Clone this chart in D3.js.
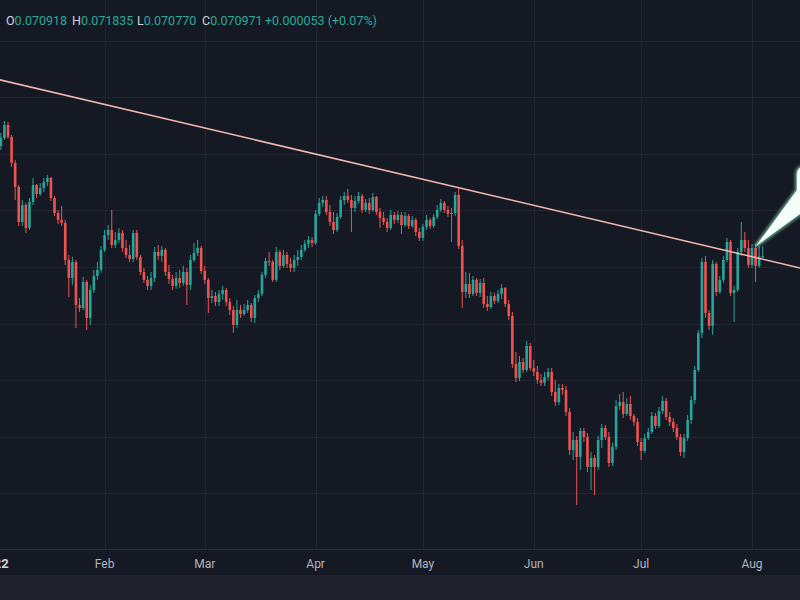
<!DOCTYPE html>
<html>
<head>
<meta charset="utf-8">
<script src="https://cdn.jsdelivr.net/npm/d3@7"></script>
<style>
  html, body { margin: 0; padding: 0; background: #1f222c; }
  svg { display: block; font-family: Roboto, "Noto Sans", sans-serif; }
</style>
</head>
<body>
<svg id="chart" width="800" height="600"></svg>
<script>
// ETH/BTC daily candles, 1 Jan 2022 -> 4 Aug 2022 (open = previous close)
var startDay = Date.UTC(2022, 0, 1);
var firstOpen = 0.08034;

var closes = [
  0.08122,0.08069,0.08140,0.08255,0.08149,0.07919,0.07707,0.07398,0.07548,0.07345,
  0.07575,0.07725,0.07645,0.07698,0.07751,0.07787,0.07610,0.07477,0.07416,0.07389,
  0.07062,0.06903,0.07045,0.06665,0.06638,0.06868,0.06550,0.06797,0.06921,0.06974,
  0.07151,0.07283,0.07327,0.07195,0.07239,0.07301,0.07168,0.07106,0.07071,0.07301,
  0.07089,0.06956,0.06886,0.06833,0.06903,0.07133,0.07098,0.07151,0.06956,0.06894,
  0.06833,0.06903,0.06859,0.06956,0.06841,0.07062,0.07124,0.07168,0.06965,0.06886,
  0.06726,0.06744,0.06691,0.06762,0.06797,0.06691,0.06620,0.06488,0.06620,0.06585,
  0.06620,0.06665,0.06550,0.06726,0.06762,0.06930,0.07053,0.07045,0.06886,0.07133,
  0.07009,0.07106,0.07027,0.06992,0.07062,0.07089,0.07151,0.07204,0.07239,0.07212,
  0.07469,0.07566,0.07592,0.07486,0.07398,0.07327,0.07442,0.07592,0.07628,0.07592,
  0.07522,0.07583,0.07628,0.07504,0.07566,0.07504,0.07619,0.07486,0.07433,0.07398,
  0.07345,0.07460,0.07416,0.07460,0.07371,0.07451,0.07363,0.07416,0.07310,0.07257,
  0.07354,0.07416,0.07363,0.07442,0.07504,0.07566,0.07504,0.07469,0.07477,0.07636,
  0.07186,0.06779,0.06850,0.06762,0.06886,0.06771,0.06859,0.06674,0.06647,0.06744,
  0.06700,0.06762,0.06815,0.06674,0.06568,0.06143,0.06020,0.06161,0.06090,0.06302,
  0.06108,0.06073,0.06002,0.05976,0.06029,0.06073,0.05896,0.05808,0.05931,0.05914,
  0.05719,0.05384,0.05472,0.05322,0.05552,0.05499,0.05234,0.05313,0.05234,0.05472,
  0.05578,0.05499,0.05269,0.05410,0.05772,0.05808,0.05702,0.05790,0.05684,0.05631,
  0.05454,0.05375,0.05489,0.05543,0.05684,0.05596,0.05728,0.05817,0.05675,0.05631,
  0.05578,0.05499,0.05366,0.05489,0.05649,0.05825,0.06090,0.06417,0.07045,0.06594,
  0.06479,0.07027,0.06779,0.06886,0.07062,0.07221,0.06771,0.06797,0.07133,0.07239,
  0.07168,0.07018,0.07168,0.07009,0.070918,0.070971
];

var highs = [
  0.08175,0.08175,0.08184,0.08290,0.08281,0.08166,0.07946,0.07725,0.07592,0.07566,
  0.07610,0.07787,0.07734,0.07742,0.07787,0.07813,0.07795,0.07628,0.07504,0.07539,
  0.07416,0.07106,0.07089,0.07062,0.06726,0.06912,0.06886,0.06841,0.06974,0.07045,
  0.07186,0.07327,0.07371,0.07504,0.07310,0.07345,0.07327,0.07239,0.07195,0.07327,
  0.07327,0.07106,0.06992,0.06921,0.06956,0.07177,0.07195,0.07186,0.07168,0.07018,
  0.06930,0.06956,0.06974,0.07009,0.06992,0.07106,0.07212,0.07239,0.07186,0.07009,
  0.06903,0.06797,0.06779,0.06797,0.06833,0.06815,0.06726,0.06656,0.06709,0.06665,
  0.06674,0.06709,0.06682,0.06753,0.06797,0.06956,0.07080,0.07133,0.07062,0.07177,
  0.07151,0.07151,0.07133,0.07080,0.07106,0.07151,0.07195,0.07239,0.07274,0.07265,
  0.07504,0.07610,0.07628,0.07628,0.07548,0.07486,0.07477,0.07628,0.07663,0.07689,
  0.07636,0.07628,0.07663,0.07645,0.07601,0.07610,0.07654,0.07628,0.07522,0.07486,
  0.07433,0.07504,0.07486,0.07495,0.07486,0.07486,0.07469,0.07451,0.07433,0.07345,
  0.07380,0.07460,0.07433,0.07469,0.07548,0.07601,0.07583,0.07539,0.07522,0.07663,
  0.07698,0.07239,0.06956,0.06947,0.06921,0.06903,0.06894,0.06903,0.06744,0.06779,
  0.06771,0.06797,0.06850,0.06824,0.06709,0.06603,0.06249,0.06214,0.06196,0.06347,
  0.06329,0.06179,0.06126,0.06055,0.06073,0.06108,0.06108,0.06002,0.05967,0.05967,
  0.05949,0.05755,0.05543,0.05507,0.05578,0.05578,0.05534,0.05366,0.05340,0.05507,
  0.05613,0.05604,0.05543,0.05446,0.05825,0.05878,0.05896,0.05843,0.05861,0.05702,
  0.05666,0.05489,0.05525,0.05578,0.05719,0.05711,0.05763,0.05861,0.05843,0.05719,
  0.05666,0.05613,0.05525,0.05525,0.05693,0.05861,0.06126,0.06444,0.07080,0.07098,
  0.06620,0.07062,0.07045,0.06921,0.07098,0.07257,0.07239,0.06833,0.07168,0.07398,
  0.07310,0.07239,0.07204,0.07204,0.07186,0.071835
];

var lows = [
  0.08016,0.08034,0.08034,0.08122,0.08131,0.07884,0.07592,0.07363,0.07363,0.07301,
  0.07327,0.07548,0.07610,0.07628,0.07663,0.07716,0.07583,0.07451,0.07380,0.07363,
  0.07018,0.06735,0.06841,0.06461,0.06603,0.06620,0.06444,0.06488,0.06771,0.06886,
  0.06947,0.07133,0.07239,0.07168,0.07168,0.07212,0.07133,0.07080,0.07045,0.07045,
  0.07062,0.06930,0.06859,0.06797,0.06797,0.06868,0.07062,0.07045,0.06921,0.06850,
  0.06797,0.06806,0.06815,0.06833,0.06665,0.06797,0.07045,0.07098,0.06939,0.06850,
  0.06594,0.06682,0.06656,0.06656,0.06709,0.06656,0.06576,0.06417,0.06461,0.06550,
  0.06568,0.06594,0.06514,0.06506,0.06691,0.06744,0.06903,0.07009,0.06868,0.06868,
  0.06974,0.06992,0.06992,0.06956,0.06956,0.07009,0.07062,0.07133,0.07168,0.07177,
  0.07195,0.07451,0.07530,0.07460,0.07363,0.07292,0.07310,0.07424,0.07548,0.07566,
  0.07310,0.07486,0.07557,0.07477,0.07486,0.07469,0.07486,0.07460,0.07345,0.07371,
  0.07310,0.07327,0.07380,0.07389,0.07292,0.07354,0.07336,0.07345,0.07274,0.07230,
  0.07230,0.07327,0.07336,0.07345,0.07424,0.07486,0.07477,0.07442,0.07221,0.07451,
  0.07159,0.06638,0.06726,0.06726,0.06744,0.06744,0.06735,0.06638,0.06612,0.06629,
  0.06674,0.06682,0.06718,0.06647,0.06532,0.06108,0.05984,0.05993,0.06064,0.06073,
  0.06082,0.06037,0.05967,0.05949,0.05949,0.06002,0.05861,0.05772,0.05781,0.05870,
  0.05684,0.05340,0.05295,0.04898,0.05207,0.05454,0.05189,0.05030,0.04986,0.05207,
  0.05401,0.05472,0.05234,0.05242,0.05384,0.05737,0.05666,0.05684,0.05649,0.05596,
  0.05419,0.05295,0.05357,0.05472,0.05525,0.05570,0.05578,0.05702,0.05649,0.05596,
  0.05543,0.05472,0.05331,0.05313,0.05463,0.05613,0.05790,0.06073,0.06373,0.06550,
  0.06444,0.06400,0.06744,0.06762,0.06859,0.07045,0.06744,0.06514,0.06779,0.07098,
  0.07133,0.06992,0.06992,0.06868,0.06992,0.070770
];

var legendKeys = ["O", "H", "L", "C"];
var legendVals = ["0.070918", "0.071835", "0.070770", "0.070971"];
var legendChange = "+0.000053 (+0.07%)";

// trend line anchors (date, price)
var trendDates = [Date.UTC(2022, 0, 1), Date.UTC(2022, 7, 15)];
var trendPrices = [0.08666, 0.06987];

var svg = d3.select("#chart"),
    width = 800,
    plotBottom = 549,
    axisBottom = 575;

var up = "#26a69a", down = "#ef5350";

var candles = closes.map(function(c, i) {
  return {
    date: d3.utcDay.offset(new Date(startDay), i),
    open: i ? closes[i - 1] : firstOpen,
    close: c,
    high: highs[i],
    low: lows[i]
  };
});

var x = d3.scaleUtc()
    .domain([new Date(Date.UTC(2022, 0, 1)), new Date(Date.UTC(2022, 7, 1))])
    .range([-6.3, 752]);
var y = d3.scaleLinear()
    .domain([0.050, 0.090])
    .range([493.4, 40.6]);

// backgrounds
svg.append("rect").attr("width", width).attr("height", 600).attr("fill", "#1f222c");
svg.append("rect").attr("width", width).attr("height", axisBottom).attr("fill", "#151924");

svg.append("clipPath").attr("id", "plot")
  .append("rect").attr("width", width).attr("height", plotBottom);

var plot = svg.append("g").attr("clip-path", "url(#plot)");

// grid
var months = d3.utcMonth.range(new Date(Date.UTC(2022, 0, 1)), new Date(Date.UTC(2022, 8, 1)));
plot.selectAll(".hgrid").data(y.ticks(8)).enter().append("line")
    .attr("x1", 0).attr("x2", width)
    .attr("y1", function(d) { return Math.round(y(d)) + 0.5; })
    .attr("y2", function(d) { return Math.round(y(d)) + 0.5; })
    .attr("stroke", "#212532").attr("stroke-width", 1);
plot.selectAll(".vgrid").data(months).enter().append("line")
    .attr("x1", function(d) { return Math.round(x(d)) + 0.5; })
    .attr("x2", function(d) { return Math.round(x(d)) + 0.5; })
    .attr("y1", 0).attr("y2", plotBottom)
    .attr("stroke", "#212532").attr("stroke-width", 1);

// candles
var candle = plot.selectAll(".candle").data(candles).enter().append("g");
candle.append("line")
    .attr("x1", function(d) { return x(d.date); })
    .attr("x2", function(d) { return x(d.date); })
    .attr("y1", function(d) { return y(d.high); })
    .attr("y2", function(d) { return y(d.low); })
    .attr("stroke", function(d) { return d.close >= d.open ? up : down; })
    .attr("stroke-width", 1);
candle.append("rect")
    .attr("x", function(d) { return x(d.date) - 1.3; })
    .attr("width", 2.6)
    .attr("y", function(d) { return y(Math.max(d.open, d.close)); })
    .attr("height", function(d) { return Math.max(1, Math.abs(y(d.open) - y(d.close))); })
    .attr("fill", function(d) { return d.close >= d.open ? up : down; });

// trend line
plot.append("line")
    .attr("x1", x(new Date(trendDates[0]))).attr("y1", y(trendPrices[0]))
    .attr("x2", x(new Date(trendDates[1]))).attr("y2", y(trendPrices[1]))
    .attr("stroke", "#f2b9b3").attr("stroke-width", 1.5);

// callout pointing at the last candle
var last = candles[candles.length - 1];
var tx = x(last.date) - 7, ty = y(last.high);
var callout = "M" + tx + "," + ty +
  " L" + (tx + 41) + "," + (ty - 56) +
  " L" + (tx + 41) + "," + (ty - 71) +
  " Q" + (tx + 41) + "," + (ty - 80) + " " + (tx + 50) + "," + (ty - 80) +
  " L" + (tx + 90) + "," + (ty - 80) +
  " L" + (tx + 90) + "," + (ty - 58) +
  " L" + (tx + 44) + "," + (ty - 32) + " Z";
var defs = svg.append("defs");
defs.append("filter").attr("id", "glow")
  .append("feGaussianBlur").attr("stdDeviation", 1.5);
plot.append("path").attr("d", callout)
    .attr("fill", "none").attr("stroke", "#8ff0c0").attr("stroke-width", 3)
    .attr("opacity", 0.7).attr("filter", "url(#glow)");
plot.append("path").attr("d", callout).attr("fill", "#f4fdf7");

// time axis
svg.append("line")
    .attr("x1", 0).attr("x2", width)
    .attr("y1", plotBottom + 0.5).attr("y2", plotBottom + 0.5)
    .attr("stroke", "#2a2e39");
svg.selectAll(".tlabel").data(months).enter().append("text")
    .attr("x", function(d) { return x(d); })
    .attr("y", 568)
    .attr("text-anchor", "middle")
    .attr("font-size", function(d) { return d.getUTCMonth() === 0 ? 13 : 12; })
    .attr("font-weight", function(d) { return d.getUTCMonth() === 0 ? 700 : 400; })
    .attr("fill", function(d) { return d.getUTCMonth() === 0 ? "#d1d4dc" : "#b2b5be"; })
    .text(function(d) { return d.getUTCMonth() === 0 ? d3.utcFormat("%Y")(d) : d3.utcFormat("%b")(d); });

// OHLC legend
var legendX = [6, 72, 137, 202];
legendKeys.forEach(function(k, i) {
  var t = svg.append("text").attr("x", legendX[i]).attr("y", 25).attr("font-size", 12.5);
  t.append("tspan").attr("fill", "#d1d4dc").text(k);
  t.append("tspan").attr("fill", "#2ea898").text(legendVals[i]);
});
svg.append("text").attr("x", 265).attr("y", 25).attr("font-size", 12.5)
    .attr("fill", "#2ea898").text(legendChange);
</script>
</body>
</html>
